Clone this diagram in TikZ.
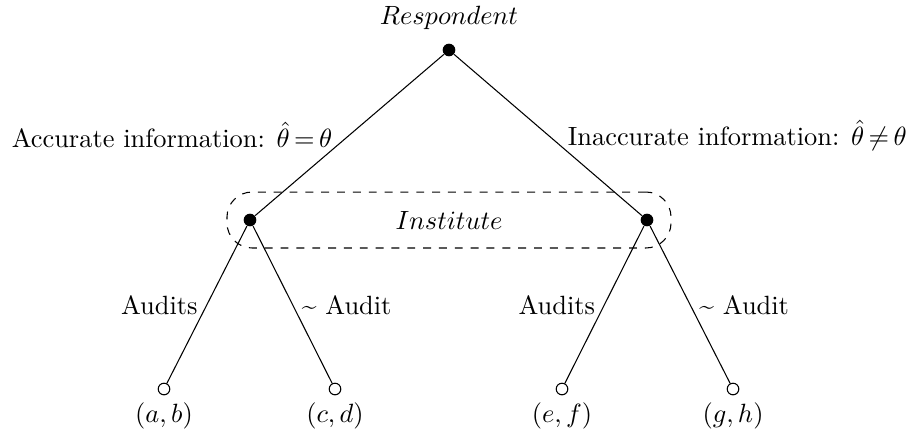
\documentclass[tikz,border=0pt]{standalone}
\usetikzlibrary{math}

\begin{document}
\begin{tikzpicture}[x=0.3788pt,y=-0.3788pt,
  chance/.style={circle,fill,inner sep=0pt,minimum size=4.8pt},
  payoff/.style={circle,draw,fill=white,inner sep=0pt,minimum size=4.4pt}]
  % 使用 tikzmath 计算各层位置
  \tikzmath{
    % 各层的高度, 不要使用 \top 和 \mid (已定义)
    \ytop = 50; \ymid = 220; \ylow = 389;
    % 标签的高度
    \ylab = \ylow + 27;
  }
  \useasboundingbox (0,0) rectangle (909,437);

  % 信息集 (虚线圆角框)
  \node[draw,dashed,rounded corners=9.5pt,minimum width=168.2pt,minimum height=21.2pt]
    (info) at (449,\ymid) {$Institute$};

  % 决策节点
  \node[chance] (resp) at (449,\ytop) {};
  \node (resplab) at (449,18) {$Respondent$};
  \node[chance] (instL) at (250,\ymid) {};
  \node[chance] (instR) at (647,\ymid) {};

  % 终端节点与收益
  \node[payoff] (leafA) at (164,\ylow) {};
  \node[payoff] (leafB) at (335,\ylow) {};
  \node[payoff] (leafC) at (562,\ylow) {};
  \node[payoff] (leafD) at (733,\ylow) {};
  \node (payA) at (164,\ylab) {$(a,b)$};
  \node (payB) at (335,\ylab) {$(c,d)$};
  \node (payC) at (562,\ylab) {$(e,f)$};
  \node (payD) at (733,\ylab) {$(g,h)$};

  % 第一层的边 (关系符号两侧的间距较窄)
  \draw (resp) -- node[midway,left,xshift=-3pt]
    {Accurate information: $\hat{\theta}\mskip3mu{=}\mskip3mu\theta$} (instL);
  \draw (resp) -- node[midway,right,xshift=4pt]
    {Inaccurate information: $\hat{\theta}\mskip3mu{\neq}\mskip3mu\theta$} (instR);

  % 第二层的边
  \draw (instL) -- node[midway,left] {Audits} (leafA);
  \draw (instL) -- node[midway,right] {\textasciitilde{} Audit} (leafB);
  \draw (instR) -- node[midway,left] {Audits} (leafC);
  \draw (instR) -- node[midway,right] {\textasciitilde{} Audit} (leafD);
\end{tikzpicture}
\end{document}
